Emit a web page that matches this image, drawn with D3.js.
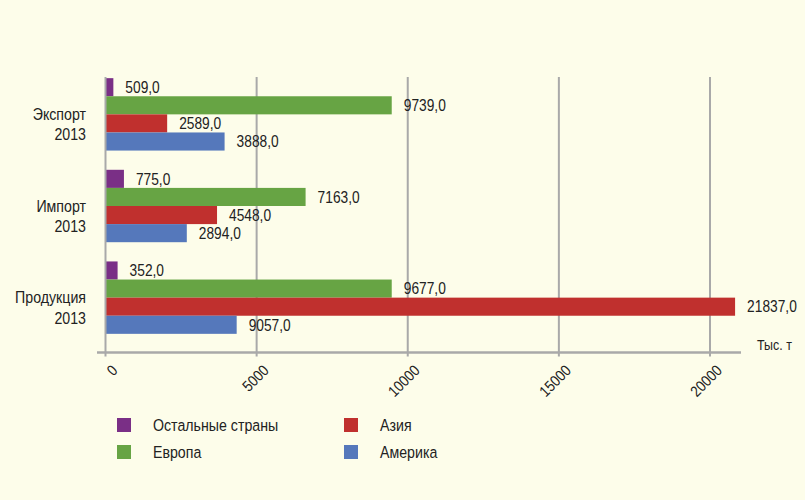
<!DOCTYPE html>
<html>
<head>
<meta charset="utf-8">
<script src="https://cdn.jsdelivr.net/npm/d3@7"></script>
<style>
  html, body { margin: 0; padding: 0; background: #fdfdea; }
  svg { display: block; font-family: "Liberation Sans", Arial, sans-serif; }
</style>
</head>
<body>
<div id="chart"></div>
<script>
// groups, top to bottom
const categories = [['Экспорт', '2013'], ['Импорт', '2013'], ['Продукция', '2013']];
const series = ['Остальные страны', 'Европа', 'Азия', 'Америка'];
// printed figures (one row per group, same order as series)
const printed = [
  [509, 9739, 2589, 3888],
  [775, 7163, 4548, 2894],
  [352, 9677, 21837, 9057]
];
// bar lengths as drawn in the source (read against the axis; they do not always match the figures)
const drawn = [
  [260, 9470, 2040, 3940],
  [610, 6620, 3690, 2690],
  [400, 9470, 20830, 4340]
];
const xTicks = [0, 5000, 10000, 15000, 20000];
const colors = ['#7a2f86', '#67a444', '#c0302e', '#5578bb'];

const W = 805, H = 500;
const narrow = 0.86; // the source uses a condensed face
const ink = '#222';
const grey = '#a9a9a9';

const svg = d3.select('#chart').append('svg').attr('width', W).attr('height', H);
svg.append('rect').attr('width', W).attr('height', H).attr('fill', '#fdfdea');

const x = d3.scaleLinear().domain([0, 20000]).range([105.5, 710]);
const y = d3.scaleBand().domain(d3.range(categories.length)).range([69, 343])
  .paddingInner(0.21).paddingOuter(0.1);
const yi = d3.scaleBand().domain(d3.range(series.length)).range([0, y.bandwidth()]);

const gridTop = 77, axisY = 352.5;

// condensed text: position with a transform, squeeze horizontally
function put(sel, fx, fy, extra) {
  sel.attr('transform', (d, i) => `translate(${fx(d, i)},${fy(d, i)}) ${extra || ''} scale(${narrow},1)`);
}

// grid lines
svg.append('g').selectAll('line')
  .data(xTicks.slice(1))
  .enter().append('line')
  .attr('x1', d => x(d)).attr('x2', d => x(d))
  .attr('y1', gridTop).attr('y2', axisY + 4)
  .attr('stroke', grey).attr('stroke-width', 2);

// bars
const groups = svg.append('g').selectAll('g')
  .data(categories)
  .enter().append('g')
  .attr('transform', (_, i) => `translate(0,${y(i)})`);

groups.selectAll('rect')
  .data((_, i) => drawn[i])
  .enter().append('rect')
  .attr('x', x(0))
  .attr('y', (_, j) => yi(j))
  .attr('width', d => x(d) - x(0))
  .attr('height', yi.bandwidth())
  .attr('fill', (_, j) => colors[j]);

const vals = groups.selectAll('text.val')
  .data((_, i) => drawn[i].map((d, j) => ({ len: d, label: printed[i][j], j })))
  .enter().append('text')
  .attr('class', 'val')
  .attr('dy', '0.36em')
  .attr('font-size', 16)
  .attr('fill', ink)
  .text(d => d3.format('.1f')(d.label).replace('.', ','));
put(vals, d => x(d.len) + 12, d => yi(d.j) + yi.bandwidth() / 2);

// category labels
groups.each(function (c) {
  const g = d3.select(this);
  const t = g.selectAll('text.cat')
    .data(c)
    .enter().append('text')
    .attr('class', 'cat')
    .attr('text-anchor', 'end')
    .attr('font-size', 16.5)
    .attr('fill', ink)
    .text(d => d);
  put(t, () => 86, (_, k) => y.bandwidth() / 2 + 5.5 + k * 20.5);
});

// axis lines
svg.append('line')
  .attr('x1', x(0)).attr('x2', x(0)).attr('y1', gridTop).attr('y2', axisY + 4)
  .attr('stroke', grey).attr('stroke-width', 2);
svg.append('line')
  .attr('x1', 97).attr('x2', 741).attr('y1', axisY).attr('y2', axisY)
  .attr('stroke', grey).attr('stroke-width', 2.5);

const xAxis = svg.append('g')
  .attr('transform', `translate(0,${axisY})`)
  .call(d3.axisBottom(x).tickValues(xTicks).tickSize(0).tickFormat(d3.format('d')));
xAxis.select('.domain').remove();
xAxis.selectAll('.tick').attr('transform', null);
const tickText = xAxis.selectAll('text')
  .attr('font-family', null)
  .attr('font-size', 15.5)
  .attr('fill', ink)
  .attr('text-anchor', 'end')
  .attr('dy', null)
  .attr('y', null);
put(tickText, d => x(d) + 13, () => 19, 'rotate(-45)');

put(svg.append('text')
  .attr('font-size', 14.5)
  .attr('fill', ink)
  .text('Тыс. т'), () => 757, () => 350);

// legend, two columns: left Остальные страны / Европа, right Азия / Америка
const legend = svg.append('g').selectAll('g')
  .data(series)
  .enter().append('g')
  .attr('transform', (_, i) => `translate(${i < 2 ? 117 : 344},${418 + (i % 2) * 27})`);
legend.append('rect')
  .attr('width', 14).attr('height', 14)
  .attr('fill', (_, i) => colors[i]);
put(legend.append('text')
  .attr('dy', '0.36em')
  .attr('font-size', 16.5)
  .attr('fill', ink)
  .text(d => d), () => 36, () => 7.5);
</script>
</body>
</html>
